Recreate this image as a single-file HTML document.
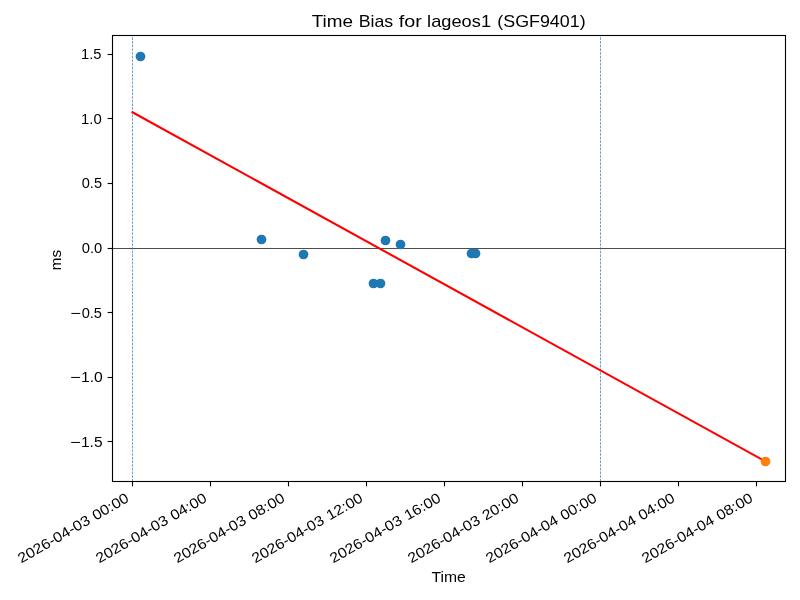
<!DOCTYPE html>
<html lang="en">
<head>
<meta charset="utf-8">
<title>Time Bias for lageos1 (SGF9401)</title>
<style>
html,body{margin:0;padding:0;background:#fff;}
body{width:800px;height:600px;overflow:hidden;font-family:"Liberation Sans",sans-serif;}
svg{display:block;will-change:transform;}
text{font-family:"Liberation Sans",sans-serif;fill:#000;white-space:pre;}
.t10{font-size:14.3px;}
.t10l{font-size:14.6px;}
.t12{font-size:17.0px;}
.sp{stroke:#000;stroke-width:1.11;fill:none;}
.tk{stroke:#000;stroke-width:1.11;}
.vl{stroke:#1f77b4;stroke-width:0.69;stroke-dasharray:2.57 1.11;}
.dot{fill:#1f77b4;}
</style>
</head>
<body>
<svg width="800" height="600" viewBox="0 0 800 600">
<rect x="0" y="0" width="800" height="600" fill="#ffffff"/>
<!-- zero reference line -->
<line x1="112.5" y1="248.5" x2="785.5" y2="248.5" stroke="#000" stroke-width="0.7"/>
<!-- day boundaries -->
<line class="vl" x1="132.5" y1="481.5" x2="132.5" y2="35.5"/>
<line class="vl" x1="600.5" y1="481.5" x2="600.5" y2="35.5"/>
<!-- observations -->
<g class="dot">
<circle cx="140.5" cy="56.5" r="4.86"/>
<circle cx="261.5" cy="239.5" r="4.86"/>
<circle cx="303.5" cy="254.5" r="4.86"/>
<circle cx="373.5" cy="283.5" r="4.86"/>
<circle cx="380.5" cy="283.5" r="4.86"/>
<circle cx="385.5" cy="240.5" r="4.86"/>
<circle cx="400.5" cy="244.5" r="4.86"/>
<circle cx="471.5" cy="253.5" r="4.86"/>
<circle cx="475.5" cy="253.5" r="4.86"/>
</g>
<!-- linear fit -->
<line x1="132.5" y1="112.24" x2="765.5" y2="461.4" stroke="#ff0000" stroke-width="2.08" stroke-linecap="square"/>
<!-- prediction -->
<circle cx="765.5" cy="461.5" r="4.86" fill="#ff7f0e"/>
<!-- ticks -->
<g class="tk">
<line x1="132.5" y1="481.5" x2="132.5" y2="486.36"/>
<line x1="210.5" y1="481.5" x2="210.5" y2="486.36"/>
<line x1="288.5" y1="481.5" x2="288.5" y2="486.36"/>
<line x1="366.5" y1="481.5" x2="366.5" y2="486.36"/>
<line x1="444.5" y1="481.5" x2="444.5" y2="486.36"/>
<line x1="522.5" y1="481.5" x2="522.5" y2="486.36"/>
<line x1="600.5" y1="481.5" x2="600.5" y2="486.36"/>
<line x1="678.5" y1="481.5" x2="678.5" y2="486.36"/>
<line x1="756.5" y1="481.5" x2="756.5" y2="486.36"/>
<line x1="107.64" y1="54.5" x2="112.5" y2="54.5"/>
<line x1="107.64" y1="118.5" x2="112.5" y2="118.5"/>
<line x1="107.64" y1="183.5" x2="112.5" y2="183.5"/>
<line x1="107.64" y1="248.5" x2="112.5" y2="248.5"/>
<line x1="107.64" y1="312.5" x2="112.5" y2="312.5"/>
<line x1="107.64" y1="377.5" x2="112.5" y2="377.5"/>
<line x1="107.64" y1="441.5" x2="112.5" y2="441.5"/>
</g>
<!-- axes frame -->
<rect class="sp" x="112.5" y="35.5" width="673.0" height="446.0"/>
<!-- y tick labels -->
<g class="t10">
<text><tspan x="81.1" y="59.0" textLength="20.41" lengthAdjust="spacingAndGlyphs">1.5</tspan></text>
<text><tspan x="81.09" y="124.0" textLength="20.68" lengthAdjust="spacingAndGlyphs">1.0</tspan></text>
<text><tspan x="81.76" y="188.0" textLength="20.25" lengthAdjust="spacingAndGlyphs">0.5</tspan></text>
<text><tspan x="81.76" y="253.0" textLength="20.51" lengthAdjust="spacingAndGlyphs">0.0</tspan></text>
<text><tspan x="70.16" y="318.0" textLength="10.62" lengthAdjust="spacingAndGlyphs">−</tspan><tspan x="81.7" y="318.0" textLength="20.31" lengthAdjust="spacingAndGlyphs">0.5</tspan></text>
<text><tspan x="70.04" y="382.0" textLength="10.66" lengthAdjust="spacingAndGlyphs">−</tspan><tspan x="81.0" y="382.0" textLength="21.79" lengthAdjust="spacingAndGlyphs">1.0</tspan></text>
<text><tspan x="70.04" y="447.0" textLength="10.66" lengthAdjust="spacingAndGlyphs">−</tspan><tspan x="81.01" y="447.0" textLength="21.52" lengthAdjust="spacingAndGlyphs">1.5</tspan></text>
</g>
<!-- x tick labels -->
<g class="t10">
<text transform="translate(21.72,563.35) rotate(-30)"><tspan x="-0.48" y="0" textLength="80.77" lengthAdjust="spacingAndGlyphs">2026-04-03</tspan> <tspan x="85.43" y="0" textLength="39.42" lengthAdjust="spacingAndGlyphs">00:00</tspan></text>
<text transform="translate(99.72,563.35) rotate(-30)"><tspan x="-0.48" y="0" textLength="80.77" lengthAdjust="spacingAndGlyphs">2026-04-03</tspan> <tspan x="85.43" y="0" textLength="39.42" lengthAdjust="spacingAndGlyphs">04:00</tspan></text>
<text transform="translate(177.72,563.35) rotate(-30)"><tspan x="-0.48" y="0" textLength="80.77" lengthAdjust="spacingAndGlyphs">2026-04-03</tspan> <tspan x="85.43" y="0" textLength="39.42" lengthAdjust="spacingAndGlyphs">08:00</tspan></text>
<text transform="translate(255.72,563.35) rotate(-30)"><tspan x="-0.48" y="0" textLength="80.77" lengthAdjust="spacingAndGlyphs">2026-04-03</tspan> <tspan x="85.46" y="0" textLength="39.39" lengthAdjust="spacingAndGlyphs">12:00</tspan></text>
<text transform="translate(333.72,563.35) rotate(-30)"><tspan x="-0.48" y="0" textLength="80.77" lengthAdjust="spacingAndGlyphs">2026-04-03</tspan> <tspan x="85.46" y="0" textLength="39.39" lengthAdjust="spacingAndGlyphs">16:00</tspan></text>
<text transform="translate(411.72,563.35) rotate(-30)"><tspan x="-0.48" y="0" textLength="80.77" lengthAdjust="spacingAndGlyphs">2026-04-03</tspan> <tspan x="85.35" y="0" textLength="39.5" lengthAdjust="spacingAndGlyphs">20:00</tspan></text>
<text transform="translate(489.72,563.35) rotate(-30)"><tspan x="-0.48" y="0" textLength="80.88" lengthAdjust="spacingAndGlyphs">2026-04-04</tspan> <tspan x="85.43" y="0" textLength="39.42" lengthAdjust="spacingAndGlyphs">00:00</tspan></text>
<text transform="translate(567.72,563.35) rotate(-30)"><tspan x="-0.48" y="0" textLength="80.88" lengthAdjust="spacingAndGlyphs">2026-04-04</tspan> <tspan x="85.43" y="0" textLength="39.42" lengthAdjust="spacingAndGlyphs">04:00</tspan></text>
<text transform="translate(645.72,563.35) rotate(-30)"><tspan x="-0.48" y="0" textLength="80.88" lengthAdjust="spacingAndGlyphs">2026-04-04</tspan> <tspan x="85.43" y="0" textLength="39.42" lengthAdjust="spacingAndGlyphs">08:00</tspan></text>
</g>
<!-- title -->
<g class="t12">
<text><tspan x="311.68" y="27" textLength="41.26" lengthAdjust="spacingAndGlyphs">Time</tspan> <tspan x="358.73" y="27" textLength="34.49" lengthAdjust="spacingAndGlyphs">Bias</tspan> <tspan x="398.77" y="27" textLength="23.06" lengthAdjust="spacingAndGlyphs">for</tspan> <tspan x="427.11" y="27" textLength="63.94" lengthAdjust="spacingAndGlyphs">lageos1</tspan> <tspan x="497.31" y="27" textLength="88.32" lengthAdjust="spacingAndGlyphs">(SGF9401)</tspan></text>
</g>
<!-- axis labels -->
<text class="t10l" x="431.5" y="581.8" textLength="34.35" lengthAdjust="spacingAndGlyphs">Time</text>
<text class="t10l" transform="translate(60.5,270.46) rotate(-90)" x="0.24" y="0" textLength="20.26" lengthAdjust="spacingAndGlyphs">ms</text>
</svg>
</body>
</html>
